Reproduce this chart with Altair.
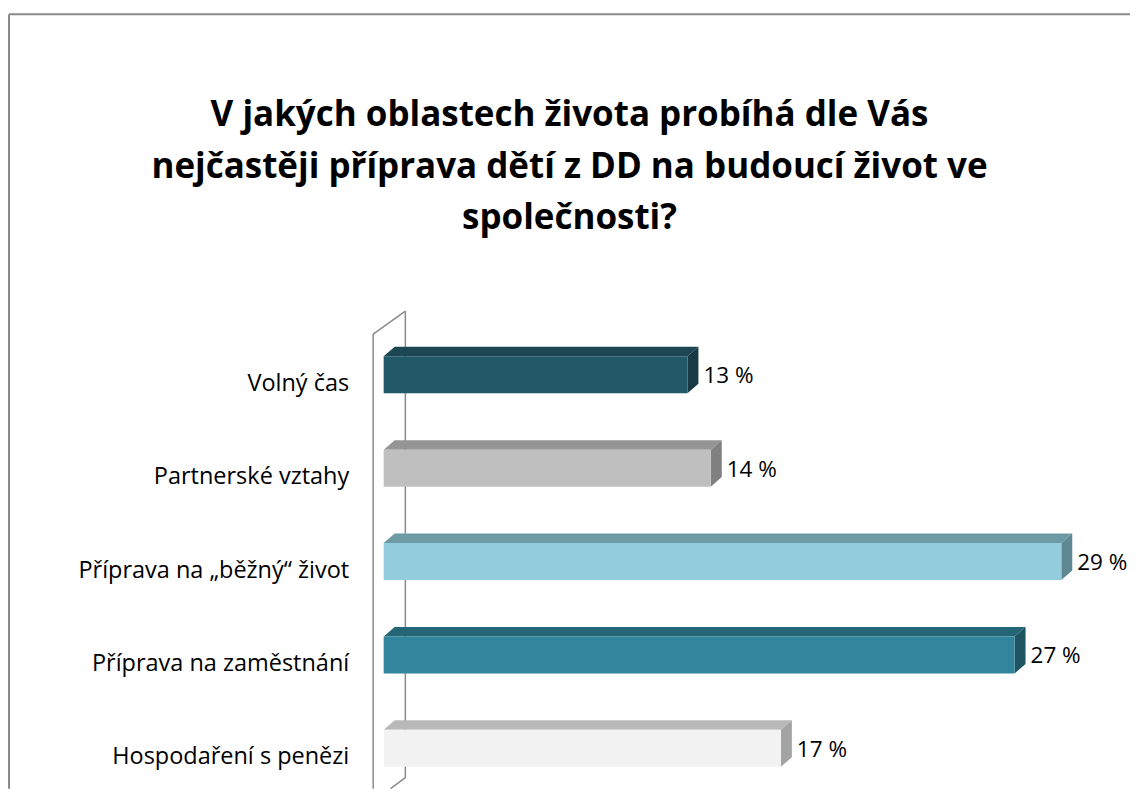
import altair as alt
import pandas as pd

categories = ["Volný čas", "Partnerské vztahy", "Příprava na „běžný“ život",
              "Příprava na zaměstnání", "Hospodaření s penězi"]
values = [13, 14, 29, 27, 17]
front_colors = ["#215968", "#bfbfbf", "#93cddd", "#31859c", "#f2f2f2"]
top_colors = ["#1c4651", "#959595", "#6e9aa6", "#246676", "#b8b8b8"]
side_colors = ["#173a44", "#808080", "#5f8893", "#1e5562", "#a3a3a3"]
title_lines = ["V jakých oblastech života probíhá dle Vás",
               "nejčastěji příprava dětí z DD na budoucí život ve",
               "společnosti?"]

HH = 0.198   # half bar height
DDX = 0.47   # depth in x
DDY = 0.102  # depth in y

idx = list(range(len(categories)))
front = pd.DataFrame({"cat": categories, "idx": idx, "v": values, "col": front_colors})
front["v0"] = 0.0
front["y1"] = front["idx"] - HH
front["y2"] = front["idx"] + HH
front["lab"] = [f"{v} %" for v in values]
front["xl"] = front["v"] + DDX

W, H = 725, 458
xs = alt.Scale(domain=[0, 31], nice=False, zero=False)
ys = alt.Scale(domain=[-0.5, 4.4], nice=False, zero=False, reverse=True)

GRAY = "#8a8a8a"
dummy = pd.DataFrame({"a": [0]})


def rule(x, y, x2, y2, w=1.5, color=GRAY):
    return alt.Chart(dummy).mark_rule(color=color, strokeWidth=w).encode(
        x=alt.value(x), y=alt.value(y), x2=alt.value(x2), y2=alt.value(y2))


face_layers = []
for i, v, tc, sc in zip(idx, values, top_colors, side_colors):
    f, b = i - HH, i - HH - DDY
    top_df = pd.DataFrame({"x": [0.0, DDX, v, v + DDX], "ya": [f, f, f, b], "yb": [f, b, b, b]})
    side_df = pd.DataFrame({"x": [v, v + DDX], "ya": [f, b], "yb": [i + HH, i + HH - DDY]})
    for df, colr in ((top_df, tc), (side_df, sc)):
        face_layers.append(alt.Chart(df).mark_area(color=colr).encode(
            x=alt.X("x:Q", scale=xs, axis=None),
            y=alt.Y("ya:Q", scale=ys, axis=None),
            y2="yb:Q"))

front_layer = alt.Chart(front).mark_rect().encode(
    x=alt.X("v0:Q", scale=xs, axis=None),
    x2="v:Q",
    y=alt.Y("y1:Q", scale=ys, axis=None),
    y2="y2:Q",
    color=alt.Color("col:N", scale=None),
)

text_layer = alt.Chart(front).mark_text(align="left", baseline="middle", dx=5, dy=1.5,
                                        font="Open Sans", fontSize=22.5, color="#000000").encode(
    x=alt.X("xl:Q", scale=xs, axis=None),
    y=alt.Y("idx:Q", scale=ys, axis=None),
    text="lab:N",
)

cat_layer = alt.Chart(front).mark_text(align="right", baseline="middle", dy=9,
                                       font="Open Sans", fontSize=23.5, color="#000000").encode(
    x=alt.value(-34.5),
    y=alt.Y("idx:Q", scale=ys, axis=None),
    text="cat:N",
)

title_layer = alt.Chart(dummy).mark_text(
    align="center", baseline="alphabetic", lineBreak="\n", lineHeight=51.5,
    font="Open Sans", fontSize=35, fontWeight="bold", color="#000000",
).encode(x=alt.value(186), y=alt.value(-202), text=alt.value("\n".join(title_lines)))

chart = alt.layer(
    rule(-375, -319, -370, -319, 1, "#ffffff"),   # top spacer (white)
    rule(-375, -314, 747, -314, 2),               # chart frame
    rule(-375, -314, -375, 461, 2),
    rule(21.7, -17, 21.7, 450),                   # 3-D wall, back edge
    rule(-10.5, 6, 21.7, -17),
    rule(21.7, 450, 6.9, 461),
    *face_layers, front_layer,
    rule(-10.5, 6, -10.5, 461),                   # 3-D wall, front edge
    text_layer, cat_layer, title_layer,
).properties(width=W, height=H, padding=0).configure_view(stroke=None)

chart.save("out.html", embed_options={"renderer": "svg", "actions": False})
